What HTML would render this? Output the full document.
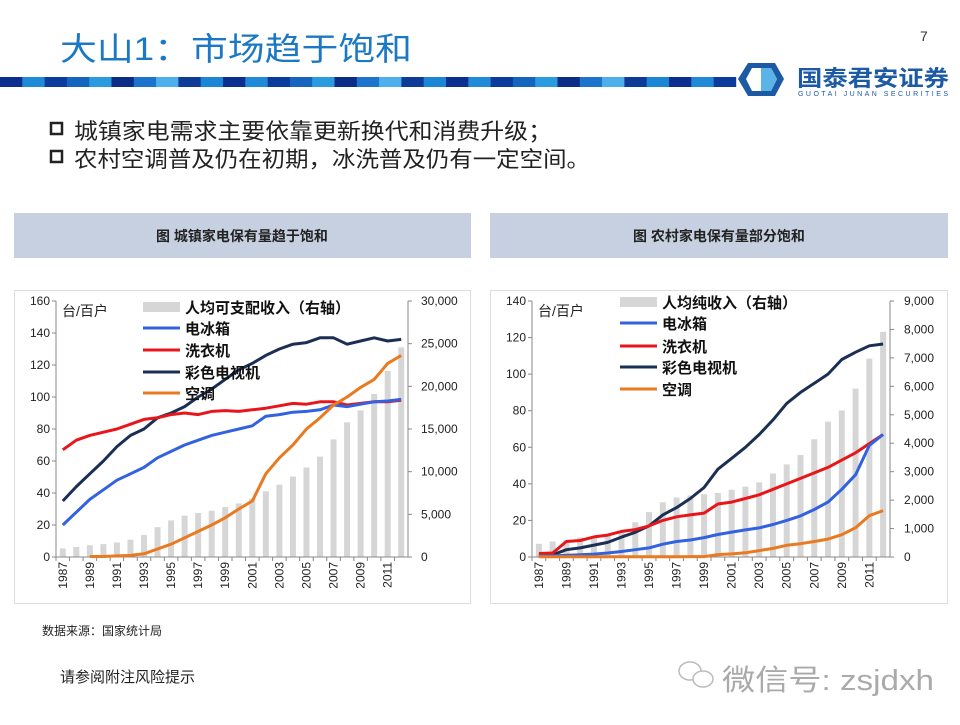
<!DOCTYPE html>
<html><head><meta charset="utf-8"><style>
body{margin:0;background:#fff;}
svg text{font-family:"Liberation Sans","Noto Sans CJK SC",sans-serif;}
</style></head><body>
<svg id="page" width="960" height="720" viewBox="0 0 960 720" xmlns="http://www.w3.org/2000/svg">
<text x="60" y="60" font-size="32" fill="#1b78c4" textLength="352" lengthAdjust="spacingAndGlyphs">大山1：市场趋于饱和</text>
<text x="920" y="41" font-size="14" fill="#333">7</text>
<g id="stripe"></g>
<g>
<path d="M748 63 L775 63 L784 79 L775 96 L748 96 L738 79 Z" fill="#1d5aa6"/>
<path d="M752 68 L771 68 L777 79 L771 91 L752 91 L746 79 Z" fill="#fff"/>
<path d="M761 68 L771 68 L777 79 L771 91 L761 91 Z" fill="#5ab4e8"/>
<text x="797" y="86" font-size="22" font-weight="bold" fill="#1d5aa6" textLength="152" lengthAdjust="spacingAndGlyphs">国泰君安证券</text>
<text x="798" y="96" font-size="7" fill="#1d5aa6" textLength="150" lengthAdjust="spacing">GUOTAI   JUNAN   SECURITIES</text>
</g>
<g>
<rect x="51" y="123" width="11" height="11" fill="none" stroke="#222" stroke-width="2.5"/>
<text x="74" y="139" font-size="22" fill="#222" textLength="478" lengthAdjust="spacingAndGlyphs">城镇家电需求主要依靠更新换代和消费升级；</text>
<rect x="51" y="151" width="11" height="11" fill="none" stroke="#222" stroke-width="2.5"/>
<text x="74" y="167" font-size="22" fill="#222" textLength="516" lengthAdjust="spacingAndGlyphs">农村空调普及仍在初期，冰洗普及仍有一定空间。</text>
</g>
<rect x="14" y="213" width="457" height="45" fill="#c6d0e0"/>
<text x="242" y="241" font-size="14" font-weight="bold" fill="#222" text-anchor="middle">图 城镇家电保有量趋于饱和</text>
<rect x="490" y="213" width="458" height="45" fill="#c6d0e0"/>
<text x="719" y="241" font-size="14" font-weight="bold" fill="#222" text-anchor="middle">图 农村家电保有量部分饱和</text>
<rect x="14.5" y="290.5" width="456" height="313" fill="#fff" stroke="#ddd"/>
<rect x="490.5" y="290.5" width="457" height="313" fill="#fff" stroke="#ddd"/>
<g id="chartL"></g>
<g id="chartR"></g>
<text x="42" y="635" font-size="12" fill="#222">数据来源：国家统计局</text>
<text x="60" y="682" font-size="15" fill="#222">请参阅附注风险提示</text>
<g>
<ellipse cx="690" cy="671" rx="11" ry="9" fill="none" stroke="#bbb" stroke-width="1.5"/>
<ellipse cx="703" cy="679" rx="10" ry="8" fill="#fff" stroke="#bbb" stroke-width="1.5"/>
<text x="722" y="690" font-size="29" fill="#aaa" textLength="212" lengthAdjust="spacingAndGlyphs">微信号: zsjdxh</text>
</g>
</svg>
<script>
var NS="http://www.w3.org/2000/svg";
// ---- data ----
var years=[1987,1988,1989,1990,1991,1992,1993,1994,1995,1996,1997,1998,1999,2000,2001,2002,2003,2004,2005,2006,2007,2008,2009,2010,2011,2012];
var urbanIncome=[1002,1180,1376,1510,1700,2027,2577,3496,4283,4839,5160,5425,5854,6280,6860,7703,8472,9422,10493,11759,13786,15781,17175,19109,21810,24565];
var urbanFridge=[20,28,36,42,48,52,56,62,66,70,73,76,78,80,82,88,89,90.5,91,92,95,94,95.5,97,97.5,98.5];
var urbanWasher=[67,73,76,78,80,83,86,87,89,90,89,91,91.5,91,92,93,94.5,96,95.5,97,97,95,96,97,97,98];
var urbanTV=[35,44,52,60,69,76,80,87,90,94,100,105,111,117,121,126,130,133,134,137,137,133,135,137,135,136];
var urbanAC=[null,null,0.3,0.3,0.7,1,2,5,8,12,16,20,24.5,30,35,52,62,70,80,87,95,100,106,111,121,126];
var ruralIncome=[463,545,602,686,709,784,922,1221,1578,1926,2090,2162,2210,2253,2366,2476,2622,2936,3255,3587,4140,4761,5153,5919,6977,7917];
var ruralFridge=[0.6,0.6,0.9,1.2,1.6,2.2,3,4,5,7,8.5,9.3,10.6,12.3,13.6,14.8,15.9,17.8,20,22.5,26,30,37,45,61,67];
var ruralWasher=[1.9,2.2,8.5,9,11,12,14,15,17,20,22,23,24,29,30,32,34,37,40,43,46,49,53,57,62,67];
var ruralTV=[0.8,1.2,4,5,6.5,8,10.9,13.5,17,23,27,32,38,48,54,60,67,75,84,90,95,100,108,112,115.5,116.5];
var ruralAC=[0.1,0.1,0.1,0.1,0.1,0.1,0.1,0.1,0.1,0.1,0.1,0.2,0.2,1.3,1.7,2.3,3.5,4.7,6.4,7.3,8.5,9.8,12.2,16,22.6,25.4];
var urbanLeftTicks=[0,20,40,60,80,100,120,140,160];
var urbanRightTicks=[0,5000,10000,15000,20000,25000,30000];
var ruralLeftTicks=[0,20,40,60,80,100,120,140];
var ruralRightTicks=[0,1000,2000,3000,4000,5000,6000,7000,8000,9000];
var urbanLegend=["人均可支配收入（右轴）","电冰箱","洗衣机","彩色电视机","空调"];
var ruralLegend=["人均纯收入（右轴）","电冰箱","洗衣机","彩色电视机","空调"];

function mk(tag,attrs,parent,txt){var e=document.createElementNS(NS,tag);for(var k in attrs)e.setAttribute(k,attrs[k]);if(txt!=null)e.textContent=txt;parent.appendChild(e);return e;}
function fmt(v){return v.toString().replace(/\B(?=(\d{3})+(?!\d))/g,",");}

(function(){var g=document.getElementById('stripe');var cols=["#0a2f8f","#1f8ad8","#0c3b9e","#1565c0","#2a9be0","#0b2d86","#1e74cc","#4db0ea","#0d3b97","#1b86d6"];
for(var i=0;i<33;i++){mk('rect',{x:i*22.3,y:77,width:22.6,height:10,fill:cols[i%cols.length]},g);}})();

function drawChart(gid,cfg){
  var g=document.getElementById(gid);
  var x0=cfg.x0,x1=cfg.x1,yb=cfg.yb,yt=cfg.yt,n=years.length,cw=(x1-x0)/n;
  function xs(i){return x0+cw*(i+0.5);}
  function yl(v){return yb-(v/cfg.lmax)*(yb-yt);}
  function yr(v){return yb-(v/cfg.rmax)*(yb-yt);}
  cfg.income.forEach(function(v,i){
    var b=mk('rect',{x:xs(i)-3,y:yr(v),width:6,height:yb-yr(v),fill:"#d6d6d6"},g);
    
    
  });
  var ax=mk('line',{x1:x0,y1:yt,x2:x0,y2:yb,stroke:"#888"},g);
  
  var ax2=mk('line',{x1:x1,y1:yt,x2:x1,y2:yb,stroke:"#888"},g);
  
  var ax3=mk('line',{x1:x0-4,y1:yb,x2:x1,y2:yb,stroke:"#888"},g);
  
  cfg.lt.forEach(function(v){
    mk('line',{x1:x0-4,y1:yl(v),x2:x0,y2:yl(v),stroke:"#888"},g);
    var t=mk('text',{x:x0-6,y:yl(v)+4,'font-size':12,'text-anchor':'end',fill:'#222'},g,fmt(v));
    
  });
  cfg.rt.forEach(function(v){
    mk('line',{x1:x1,y1:yr(v),x2:x1+4,y2:yr(v),stroke:"#888"},g);
    var t=mk('text',{x:cfg.rlx,y:yr(v)+4,'font-size':12,fill:'#222'},g,fmt(v));
    
  });
  years.forEach(function(y,i){
    mk('line',{x1:x0+cw*i,y1:yb,x2:x0+cw*i,y2:yb+4,stroke:"#888"},g);
    if(i%2==0){var t=mk('text',{x:0,y:0,'font-size':12,'text-anchor':'end',fill:'#222',transform:'translate('+(xs(i)+4)+','+(yb+5)+') rotate(-90)'},g,y);
      }
  });
  var series=[[cfg.tv,"#1b2f55","tv-line"],[cfg.washer,"#e8161b","washer-line"],[cfg.fridge,"#3362e0","fridge-line"],[cfg.ac,"#ea7a1f","ac-line"]];
  series.forEach(function(s){
    var d="",st=false;
    s[0].forEach(function(v,i){if(v==null)return;d+=(st?"L":"M")+xs(i).toFixed(1)+" "+yl(v).toFixed(1);st=true;});
    var p=mk('path',{d:d,fill:'none',stroke:s[1],'stroke-width':3,'stroke-linejoin':'round'},g);
    
  });
  var cols=["#d6d6d6","#3362e0","#e8161b","#1b2f55","#ea7a1f"];
  cfg.legend.forEach(function(lbl,i){
    var yy=cfg.ly[i];
    if(i==0)mk('rect',{x:cfg.lx,y:yy-5,width:37,height:10,fill:cols[0]},g);
    else mk('line',{x1:cfg.lx,y1:yy,x2:cfg.lx+37,y2:yy,stroke:cols[i],'stroke-width':3},g);
    var t=mk('text',{x:cfg.lx+42,y:yy+6,'font-size':15,'font-weight':'bold',fill:'#111'},g,lbl);
    
  });
  var u=mk('text',{x:x0+6,y:yt+15,'font-size':14,fill:'#222'},g,"台/百户");
  
}
drawChart('chartL',{x0:56,x1:408,yb:557,yt:301,lmax:160,rmax:30000,income:urbanIncome,fridge:urbanFridge,washer:urbanWasher,tv:urbanTV,ac:urbanAC,lt:urbanLeftTicks,rt:urbanRightTicks,rlx:421,legend:urbanLegend,lx:143,ly:[307,328,350,372,393]});
drawChart('chartR',{x0:532,x1:890,yb:557,yt:301,lmax:140,rmax:9000,income:ruralIncome,fridge:ruralFridge,washer:ruralWasher,tv:ruralTV,ac:ruralAC,lt:ruralLeftTicks,rt:ruralRightTicks,rlx:904,legend:ruralLegend,lx:620,ly:[302,323,346,367,389]});
</script>
</body></html>
